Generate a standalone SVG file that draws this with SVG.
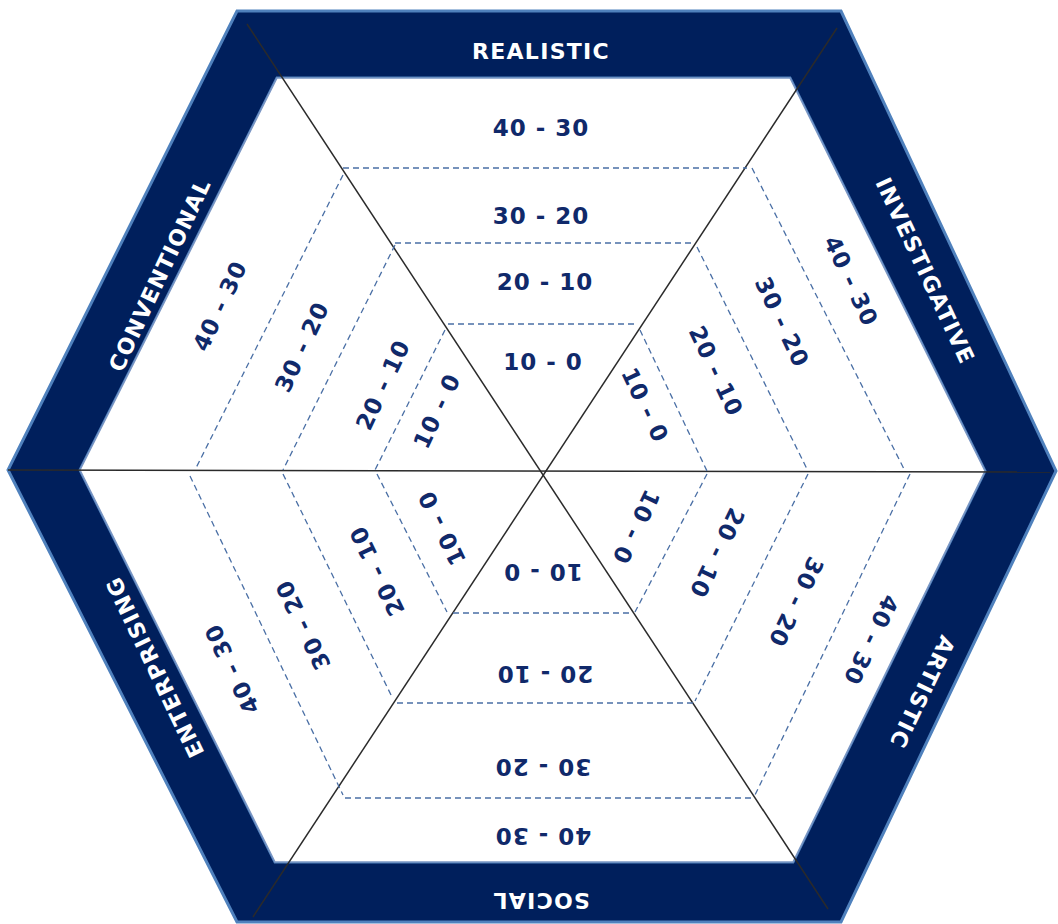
<svg xmlns="http://www.w3.org/2000/svg" width="1058" height="924" viewBox="0 0 1058 924">
<style>
.band{fill:#001F5C;stroke:#4F81BD;stroke-width:3;stroke-linejoin:miter}
.inner{fill:#ffffff;stroke:#7A96C4;stroke-width:1.5}
.spoke{stroke:#2a2a2a;stroke-width:1.5;fill:none}
.dash{stroke:#4A6FA5;stroke-width:1.3;stroke-dasharray:6 4;fill:none}
.lbl{font-family:"DejaVu Sans","Verdana",sans-serif;font-weight:bold;font-size:23px;letter-spacing:1px;fill:#10296A;text-anchor:middle;dominant-baseline:central}
.hdr{font-family:"DejaVu Sans","Verdana",sans-serif;font-weight:bold;font-size:22px;letter-spacing:1.3px;fill:#ffffff;text-anchor:middle;dominant-baseline:central}
</style>
<rect width="1058" height="924" fill="#ffffff"/>
<g id="frame">
<path class="band" fill-rule="evenodd" d="M237,11 L841,11 L1056,471 L841,922 L237,922 L8,470 Z M277,78 L80,470 L275,862 L793,862 L985,471 L790,78 Z"/>
<polygon class="inner" points="277,78 790,78 985,471 793,862 275,862 80,470"/>
</g>
<g id="connectors">
<line class="spoke" x1="247" y1="24" x2="828" y2="909"/>
<line class="spoke" x1="837" y1="28" x2="253" y2="917"/>
<line class="spoke" x1="8" y1="470" x2="1050" y2="472"/>
<line class="dash" x1="343" y1="168" x2="747" y2="168"/>
<line class="dash" x1="395" y1="243" x2="695" y2="243"/>
<line class="dash" x1="448" y1="324" x2="637" y2="324"/>
<line class="dash" x1="752" y1="168" x2="905" y2="471"/>
<line class="dash" x1="697" y1="247" x2="808" y2="471"/>
<line class="dash" x1="640" y1="330" x2="707" y2="471"/>
<line class="dash" x1="910" y1="474" x2="755" y2="795"/>
<line class="dash" x1="808" y1="474" x2="695" y2="701"/>
<line class="dash" x1="707" y1="474" x2="635" y2="612"/>
<line class="dash" x1="453" y1="613" x2="633" y2="613"/>
<line class="dash" x1="397" y1="703" x2="693" y2="703"/>
<line class="dash" x1="345" y1="798" x2="755" y2="798"/>
<line class="dash" x1="190" y1="476" x2="343" y2="795"/>
<line class="dash" x1="283" y1="474" x2="392" y2="697"/>
<line class="dash" x1="377" y1="474" x2="447" y2="612"/>
<line class="dash" x1="343" y1="175" x2="195" y2="470"/>
<line class="dash" x1="395" y1="245" x2="283" y2="470"/>
<line class="dash" x1="445" y1="330" x2="375" y2="470"/>
</g>
<g id="realistic">
<text class="hdr" x="541" y="51">REALISTIC</text>
<text class="lbl" x="541" y="128">40 - 30</text>
<text class="lbl" x="541" y="216">30 - 20</text>
<text class="lbl" x="545" y="282">20 - 10</text>
<text class="lbl" x="543" y="362">10 - 0</text>
</g>
<g id="investigative">
<text class="hdr" transform="translate(925,271) rotate(64.8)">INVESTIGATIVE</text>
<text class="lbl" transform="translate(851,281) rotate(64.8)">40 - 30</text>
<text class="lbl" transform="translate(782,322) rotate(64.8)">30 - 20</text>
<text class="lbl" transform="translate(716,371) rotate(64.8)">20 - 10</text>
<text class="lbl" transform="translate(645,405) rotate(64.8)">10 - 0</text>
</g>
<g id="artistic">
<text class="hdr" transform="translate(922,692) rotate(115.7)">ARTISTIC</text>
<text class="lbl" transform="translate(871,640) rotate(115.7)">40 - 30</text>
<text class="lbl" transform="translate(796,602) rotate(115.7)">30 - 20</text>
<text class="lbl" transform="translate(717,553) rotate(115.7)">20 - 10</text>
<text class="lbl" transform="translate(636,527) rotate(115.7)">10 - 0</text>
</g>
<g id="social">
<text class="hdr" transform="translate(541,900) rotate(180)">SOCIAL</text>
<text class="lbl" transform="translate(543,836) rotate(180)">40 - 30</text>
<text class="lbl" transform="translate(543,767) rotate(180)">30 - 20</text>
<text class="lbl" transform="translate(545,674) rotate(180)">20 - 10</text>
<text class="lbl" transform="translate(543,572) rotate(180)">10 - 0</text>
</g>
<g id="enterprising">
<text class="hdr" transform="translate(155,667) rotate(-115.7)">ENTERPRISING</text>
<text class="lbl" transform="translate(232,669) rotate(-115.7)">40 - 30</text>
<text class="lbl" transform="translate(303,625) rotate(-115.7)">30 - 20</text>
<text class="lbl" transform="translate(377,571) rotate(-115.7)">20 - 10</text>
<text class="lbl" transform="translate(442,528) rotate(-115.7)">10 - 0</text>
</g>
<g id="conventional">
<text class="hdr" transform="translate(160,275) rotate(-64.8)">CONVENTIONAL</text>
<text class="lbl" transform="translate(220,306) rotate(-64.8)">40 - 30</text>
<text class="lbl" transform="translate(302,347) rotate(-64.8)">30 - 20</text>
<text class="lbl" transform="translate(383,385) rotate(-64.8)">20 - 10</text>
<text class="lbl" transform="translate(437,411) rotate(-64.8)">10 - 0</text>
</g>
</svg>
